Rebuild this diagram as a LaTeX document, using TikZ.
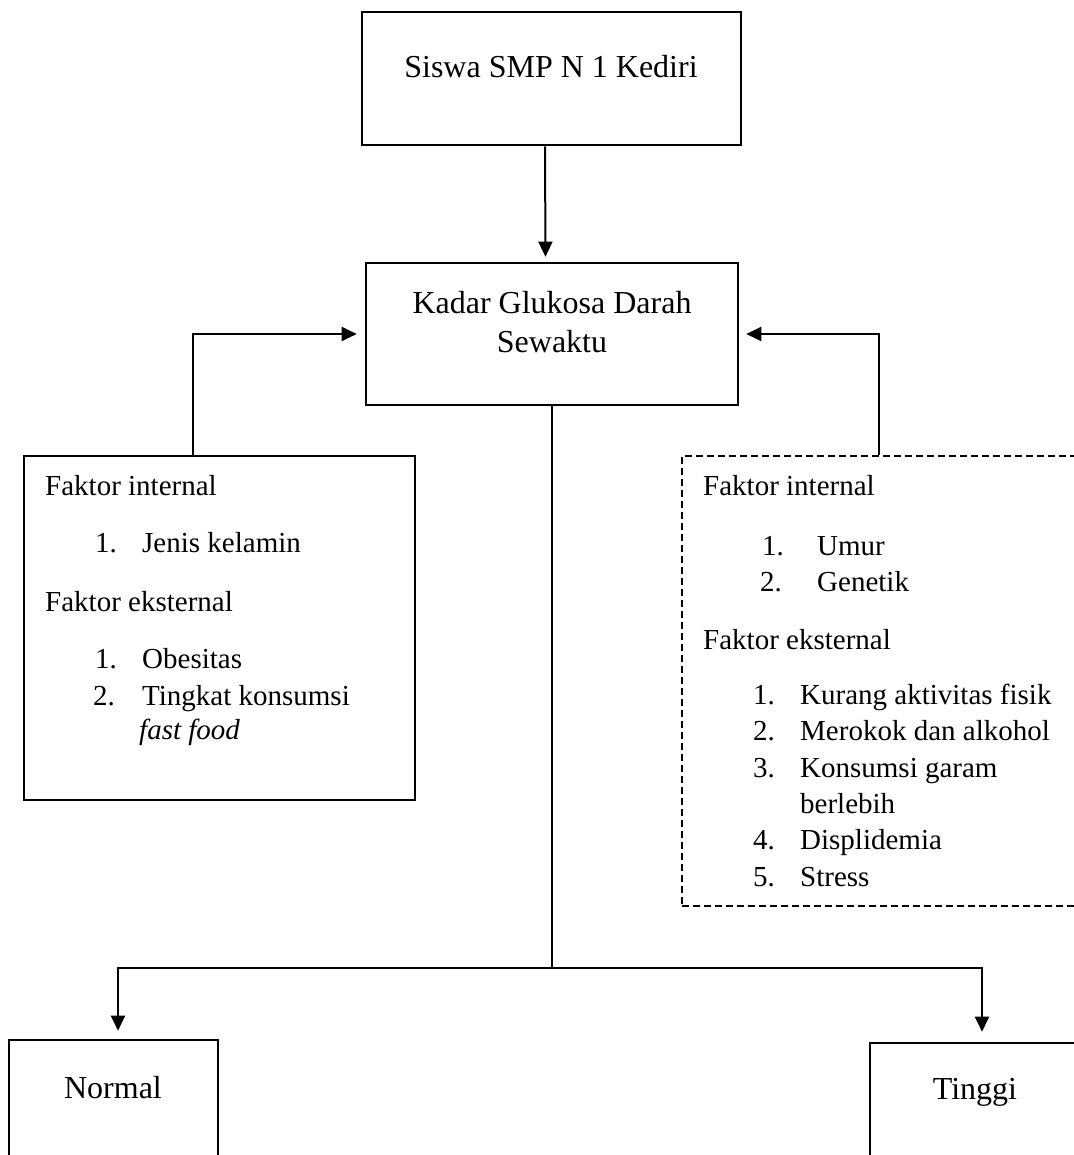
\documentclass[tikz,border=0pt]{standalone}
\usepackage{fontspec}
\setmainfont{Liberation Serif}
\usetikzlibrary{arrows.meta}

\begin{document}
\begin{tikzpicture}[x=1pt,y=-1pt,
  box/.style={draw, line width=2.6pt, inner sep=0pt},
  arr/.style={-{Triangle[length=15pt,width=14pt]}, line width=2pt},
  txt/.style={font=\fontsize{29pt}{36pt}\selectfont, inner sep=0pt, anchor=base west},
  ttl/.style={font=\fontsize{32pt}{39pt}\selectfont, inner sep=0pt, anchor=base}]
\useasboundingbox (0,0) rectangle (1073,1155);
% boxes
\node[box, minimum width=379pt, minimum height=133pt] (siswa) at (551.5,78.5) {};
\node[box, minimum width=372pt, minimum height=142pt] (kadar) at (552,334) {};
\node[box, minimum width=391pt, minimum height=344pt] (fakL) at (219.5,628) {};
\node[box, dash pattern=on 7pt off 4pt, minimum width=418pt, minimum height=450pt] (fakR) at (891,681) {};
\node[box, minimum width=209pt, minimum height=200pt] (normal) at (113.5,1140) {};
\node[box, minimum width=224pt, minimum height=200pt] (tinggi) at (982,1143) {};
% titles
\node[ttl] (siswaT) at (551,78) {Siswa SMP N 1 Kediri};
\node[ttl] (kadarT) at (552,313) {Kadar Glukosa Darah};
\node[ttl] (kadarT2) at (552,352) {Sewaktu};
\node[ttl] (normalT) at (113,1098) {Normal};
\node[ttl] (tinggiT) at (975,1099) {Tinggi};
% left box text
\foreach \i/\x/\y/\t in {1/45/495/Faktor internal, 2/95/552/1., 3/142/552/Jenis kelamin,
  4/45/611/Faktor eksternal, 5/95/668/1., 6/142/668/Obesitas, 7/93/705/2.,
  8/142/705/Tingkat konsumsi, 9/139/739/\textit{fast food}}
\node[txt] (l\i) at (\x,\y) {\t};
% right box text
\foreach \i/\x/\y/\t in {1/703/495/Faktor internal, 2/762/555/1., 3/817/555/Umur,
  4/760/591/2., 5/817/591/Genetik, 6/703/649/Faktor eksternal,
  7/753/704/1., 8/800/704/Kurang aktivitas fisik, 9/753/740/2., 10/800/740/Merokok dan alkohol,
  11/753/777/3., 12/800/777/Konsumsi garam, 13/800/813/berlebih,
  14/753/849/4., 15/800/849/Displidemia, 16/753/886/5., 17/800/886/Stress}
\node[txt] (r\i) at (\x,\y) {\t};
% connectors
\draw[arr, shorten >=5pt] ([xshift=-6.5pt]siswa.south) -- ([xshift=-6.5pt]kadar.north);
\draw[arr, shorten >=8pt] ([xshift=-26.5pt]fakL.north) |- (kadar.west);
\draw[arr, shorten >=7pt] ([xshift=-12pt]fakR.north) |- (kadar.east);
\coordinate (split) at (552,968);
\draw[line width=1.6pt] (kadar.south) -- (split);
\draw[arr, shorten >=8pt] (split) -| ([xshift=4.5pt]normal.north);
\draw[arr, shorten >=10pt] (split) -| (tinggi.north);
\end{tikzpicture}
\end{document}
